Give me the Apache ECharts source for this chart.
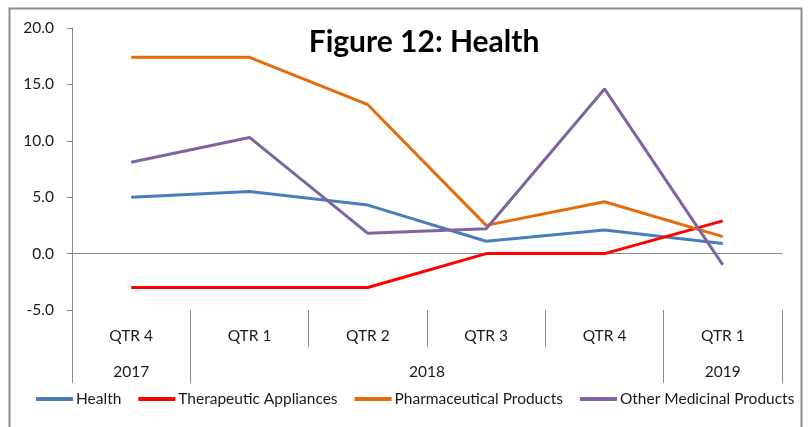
<!DOCTYPE html>
<html>
<head>
<meta charset="utf-8">
<script src="https://cdn.jsdelivr.net/npm/echarts@6/dist/echarts.min.js"></script>
<style>
  html, body { margin: 0; padding: 0; background: #fff; }
  #chart { width: 809px; height: 427px; }
</style>
</head>
<body>
<div id="chart"></div>
<script>
// quarters along the bottom, grouped by year
const quarters = ["QTR 4", "QTR 1", "QTR 2", "QTR 3", "QTR 4", "QTR 1"];
const years = ["2017", "2018", "2019"];
const yearSpans = [1, 4, 1];

// percent change
const health = [5.0, 5.5, 4.3, 1.1, 2.1, 0.9];
const therapeutic = [-3.0, -3.0, -3.0, 0.0, 0.0, 2.9];
const pharma = [17.4, 17.4, 13.2, 2.5, 4.6, 1.5];
const otherMedicinal = [8.1, 10.3, 1.8, 2.2, 14.6, -1.0];

const yTicks = [-5, 0, 5, 10, 15, 20];

const axisGray = "#898989";
const textColor = "#1a1a1a";
const fontFamily = "Lato, 'Open Sans', sans-serif";

// year row uses half-quarter steps so each label sits in the middle of its span
const yearSlots = new Array(quarters.length * 2 + 1).fill("");
const yearEdges = [0];
let start = 0;
years.forEach((y, i) => {
  yearSlots[start * 2 + yearSpans[i]] = y;
  start += yearSpans[i];
  yearEdges.push(start * 2);
});

const chart = echarts.init(document.getElementById("chart"));

function line(name, data, color) {
  return {
    name,
    type: "line",
    data,
    symbol: "none",
    xAxisIndex: 0,
    yAxisIndex: 0,
    lineStyle: { width: 3, color },
    itemStyle: { color },
    emphasis: { disabled: true }
  };
}

chart.setOption({
  animation: false,
  backgroundColor: "#fff",
  textStyle: { fontFamily, color: textColor },
  title: {
    text: "Figure 12: Health",
    left: 424,
    top: 27,
    padding: 0,
    textAlign: "center",
    textStyle: { fontFamily, fontWeight: "bold", fontSize: 30, color: "#000" }
  },
  graphic: [
    {
      type: "rect",
      shape: { x: 9.5, y: 8.5, width: 792, height: 440 },
      style: { fill: "none", stroke: "#8c8c8c", lineWidth: 2 },
      silent: true
    }
  ],
  legend: {
    left: 36,
    top: 391,
    padding: 0,
    icon: "rect",
    itemWidth: 37,
    itemHeight: 4,
    itemGap: 17,
    textStyle: { fontFamily, fontSize: 15.5, color: textColor, padding: [0, 0, 0, -2] }
  },
  grid: [
    { left: 72, right: 27, top: 28, height: 282 },
    { left: 72, right: 27, top: 310, height: 37 },
    { left: 72, right: 27, top: 347, height: 36 }
  ],
  xAxis: [
    {
      type: "category",
      gridIndex: 0,
      data: quarters,
      axisLine: { onZero: true, lineStyle: { color: axisGray } },
      axisTick: { length: 5, lineStyle: { color: axisGray } },
      axisLabel: { show: false },
      splitLine: { show: false }
    },
    {
      type: "category",
      gridIndex: 1,
      position: "top",
      data: quarters.map((q, i) => ({ value: q + "#" + i })),
      axisLine: { show: false },
      axisTick: { show: false },
      axisLabel: {
        inside: true,
        margin: 18,
        interval: 0,
        fontSize: 15.5,
        color: textColor,
        formatter: (v) => v.split("#")[0]
      },
      splitLine: { show: true, interval: 0, lineStyle: { color: axisGray } }
    },
    {
      type: "category",
      gridIndex: 2,
      position: "top",
      boundaryGap: false,
      data: yearSlots.map((y, i) => "s" + i),
      axisLine: { show: false },
      axisTick: { show: false },
      axisLabel: {
        inside: true,
        margin: 17,
        interval: 0,
        fontSize: 15.5,
        color: textColor,
        formatter: (v, idx) => yearSlots[idx]
      },
      splitLine: {
        show: true,
        interval: (idx) => yearEdges.indexOf(idx) !== -1,
        lineStyle: { color: axisGray }
      }
    }
  ],
  yAxis: [
    {
      type: "value",
      gridIndex: 0,
      min: yTicks[0],
      max: yTicks[yTicks.length - 1],
      interval: 5,
      axisLine: { show: true, lineStyle: { color: axisGray } },
      axisTick: { show: true, length: 5, lineStyle: { color: axisGray } },
      axisLabel: {
        margin: 18,
        fontSize: 15.5,
        color: textColor,
        formatter: (v) => v.toFixed(1)
      },
      splitLine: { show: false }
    },
    { type: "value", gridIndex: 1, show: false },
    { type: "value", gridIndex: 2, show: false }
  ],
  series: [
    line("Health", health, "#4a7ebb"),
    line("Therapeutic Appliances", therapeutic, "#ff0000"),
    line("Pharmaceutical Products", pharma, "#e46c0a"),
    line("Other Medicinal Products", otherMedicinal, "#8064a2")
  ]
});
</script>
</body>
</html>
